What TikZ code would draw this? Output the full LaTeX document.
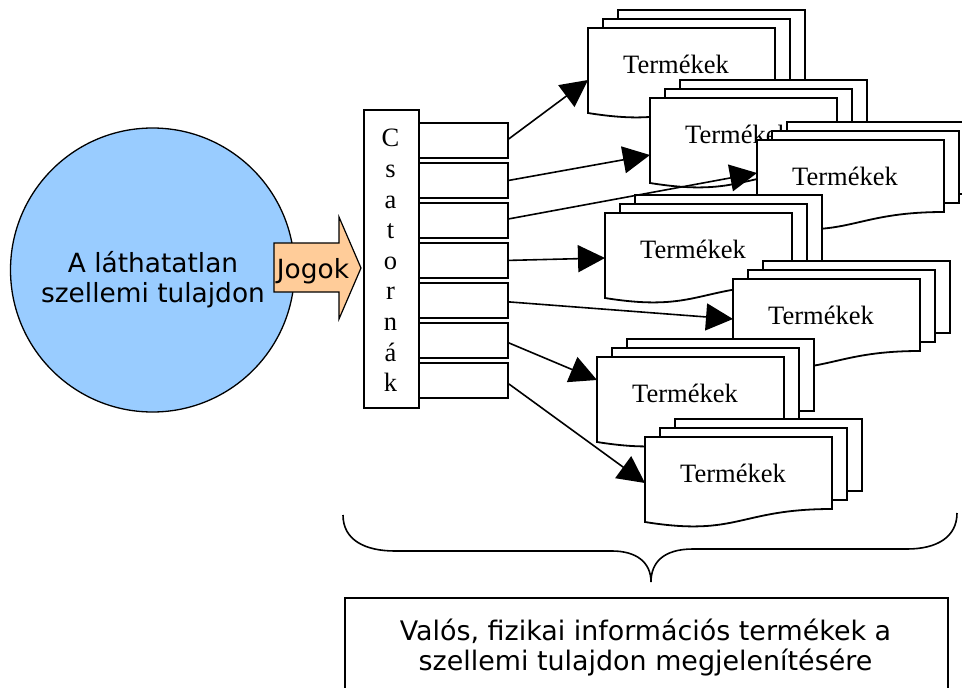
\documentclass[tikz,border=0pt]{standalone}
\usepackage{fontspec}
\setmainfont{Liberation Serif}
\newfontfamily\verd{DejaVu Sans}
\usetikzlibrary{arrows.meta,calc}
\definecolor{ipblue}{HTML}{99CCFF}
\definecolor{rightsorange}{HTML}{FFCC99}

% One stack of three product sheets; #1 name, (#2,#3) top-left corner of
% the front sheet, #4 height of the incoming arrow tip on its left edge
\newcommand\prodstack[4]{%
  \begin{scope}[shift={(#2,#3)}]
    \draw[page] (30,-18) rectangle ++(187,72);
    \draw[page] (15,-9) rectangle ++(187,72);
    \draw[page] (0,0) -- (187,0) -- (187,72)
      .. controls (93.5,72) and (93.5,100) .. (0,85) -- cycle;
    \node[serif, anchor=base] (#1) at (88,45) {Termékek};
    \coordinate (#1in) at (0,#4);
  \end{scope}}

\begin{document}
\begin{tikzpicture}[x=1pt, y=-1pt,
  page/.style={draw, fill=white, line width=1.8pt, line join=miter},
  box/.style={draw, fill=white, line width=1.8pt, inner sep=0pt, anchor=north west},
  serif/.style={font=\fontsize{26.5}{30.6}\selectfont, inner sep=0pt},
  sans/.style={font=\verd\fontsize{26.4}{30}\selectfont, inner sep=0pt, align=center},
  flow/.style={line width=1.6pt, -{Triangle[length=27pt,width=27pt]}}]
\useasboundingbox (0,0) rectangle (962,688);
\clip (0,0) rectangle (962,688);

% intellectual property
\node[circle, draw, fill=ipblue, line width=1.3pt, minimum size=284pt,
  inner sep=0pt] (ip) at (152.5,270) {};
\node[sans] (iptext) at (153,280) {A láthatatlan\\szellemi tulajdon};

% rights arrow
\filldraw[fill=rightsorange, line width=1.2pt, line join=miter]
  (274,243) -- (339,243) -- (339,217) -- (361,268) -- (339,319)
  -- (339,292) -- (274,292) -- cycle;
\node[sans, anchor=base] (jogok) at (313,278) {Jogok};

% channels
\node[box, minimum width=55pt, minimum height=298pt] (cs) at (363,109) {};
\node[serif, align=center] (cstext) at (390.5,260.5)
  {C\\s\\a\\t\\o\\r\\n\\á\\k};
\foreach \i in {1,...,7}
  \node[box, minimum width=89pt, minimum height=35pt] (b\i)
    at (418,{122+40*(\i-1)}) {};

% product stacks, back to front
\prodstack{p1}{588}{28}{52}
\prodstack{p2}{650}{98}{57}
\prodstack{p3}{757}{140}{33}
\prodstack{p4}{605}{213}{45}
\prodstack{p5}{733}{279}{40}
\prodstack{p6}{597}{357}{23}
\prodstack{p7}{645}{437}{46}

% channel outputs
\draw[flow] ([yshift=1.5pt]b1.east) -- (p1in);
\draw[flow] (b2.east) -- (p2in);
\draw[flow] ([yshift=1.5pt]b3.east) -- (p3in);
\draw[flow] (b4.east) -- (p4in);
\draw[flow] ([yshift=-1.5pt]b5.east) -- (p5in);
\draw[flow] ([yshift=-2.5pt]b6.east) -- (p6in);
\draw[flow] ([yshift=-3.5pt]b7.east) -- (p7in);

% brace under the products
\draw[line width=1.6pt]
  (343,515) .. controls (343,540) and (365,551) .. (395,551)
  -- (612,551) .. controls (636,551) and (651,562) .. (651,582)
  .. controls (651,562) and (664,549) .. (693,549)
  -- (907,549) .. controls (937,549) and (957,537) .. (957,513);

% result box
\node[box, minimum width=603pt, minimum height=120pt] (res) at (344,597) {};
\node[sans, font=\verd\fontsize{26.9}{30}\selectfont] (restext) at (645.5,648)
  {Valós, fizikai információs termékek a\\szellemi tulajdon megjelenítésére};
\end{tikzpicture}
\end{document}
